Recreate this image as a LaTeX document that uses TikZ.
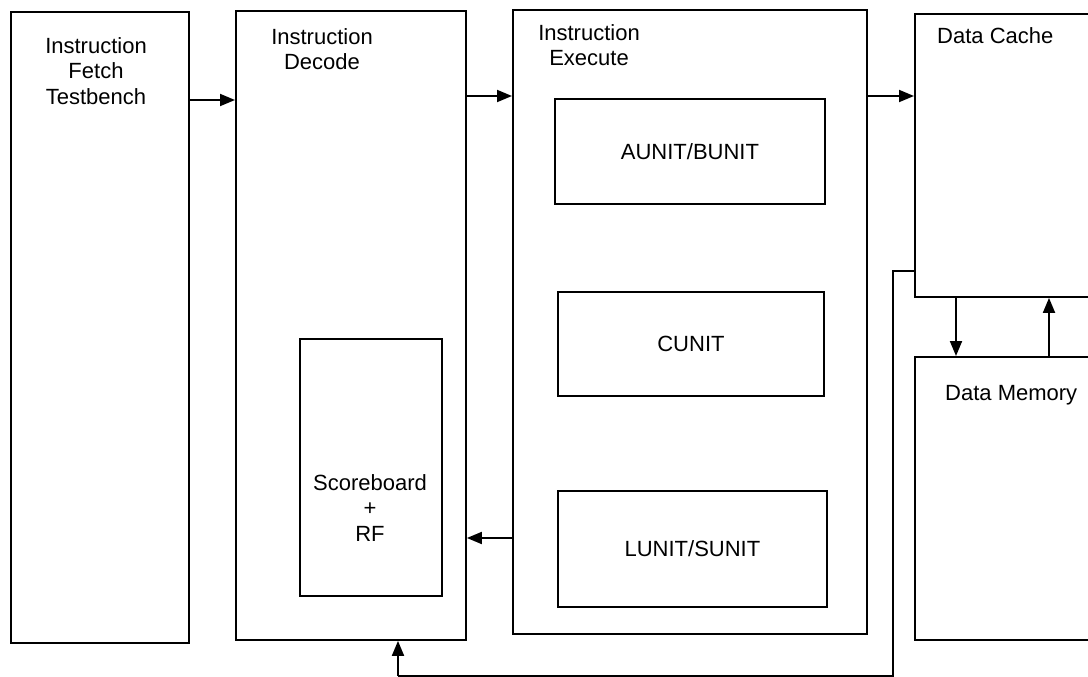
\documentclass[tikz,border=0pt]{standalone}
\usepackage{fontspec}
\setmainfont{Liberation Sans}
\usetikzlibrary{arrows.meta}
\tikzset{
  txt/.style={font=\fontsize{22}{25.5}\selectfont},
  box/.style={draw, line width=1.9pt, inner sep=0pt, anchor=north west, txt},
  lbl/.style={inner sep=0pt, align=center, anchor=north, txt},
  wire/.style={line width=1.9pt},
  arr/.style={wire, -{Triangle[length=15pt,width=12pt]}},
}
\begin{document}
\begin{tikzpicture}[x=1pt,y=-1pt]
\useasboundingbox (0,0) rectangle (1088,677);
\clip (0,0) rectangle (1088,677);

% pipeline stages
\node[box, minimum width=178pt, minimum height=631pt] (fetch)   at (10,11)  {};
\node[box, minimum width=230pt, minimum height=629pt] (decode)  at (235,10) {};
\node[box, minimum width=354pt, minimum height=624pt] (execute) at (512,9)  {};
\node[box, minimum width=216pt, minimum height=283pt] (cache)   at (914,13) {};
\node[box, minimum width=216pt, minimum height=283pt] (mem)     at (914,356) {};

% execution units
\node[box, minimum width=270pt, minimum height=105pt] (aunit) at (554,98)  {AUNIT/BUNIT};
\node[box, minimum width=266pt, minimum height=104pt] (cunit) at (557,291) {CUNIT};
\node[box, minimum width=269pt, minimum height=116pt] (lunit) at (557,490) {LUNIT/SUNIT};

% scoreboard / register file
\node[box, minimum width=142pt, minimum height=257pt] (score) at (299,338) {};

% stage titles
\node[lbl] (fetchlbl)   at (96,37.3)  {Instruction\\Fetch\\Testbench};
\node[lbl] (decodelbl)  at (322,28.3) {Instruction\\Decode};
\node[lbl] (executelbl) at (589,24.3) {Instruction\\Execute};
\node[lbl] (scorelbl)   at (370,474.3) {Scoreboard\\+\\RF};
\node[inner sep=0pt, anchor=base west, txt] (cachelbl) at (937,44)  {Data Cache};
\node[inner sep=0pt, anchor=base west, txt] (memlbl)   at (945,400) {Data Memory};

% forward datapath
\draw[arr] (fetch.east |- 0,100) -- (decode.west |- 0,100);
\draw[arr] (decode.east |- 0,96) -- (execute.west |- 0,96);
\draw[arr] (execute.east |- 0,96) -- (cache.west |- 0,96);

% writeback into the register file
\draw[arr] (execute.west |- 0,538) -- (decode.east |- 0,538);

% cache <-> memory
\draw[arr] (cache.south -| 956,0) -- (mem.north -| 956,0);
\draw[arr] (mem.north -| 1049,0) -- (cache.south -| 1049,0);

% load return path from the cache back to decode
\coordinate (fbtop) at (893,271);
\coordinate (fbbot) at (893,676);
\coordinate (fbleft) at (398,676);
\draw[wire] (cache.west |- fbtop) -- (fbtop) -- (fbbot) -- (fbleft);
\draw[arr] (fbleft) -- (decode.south -| fbleft);
\end{tikzpicture}
\end{document}
